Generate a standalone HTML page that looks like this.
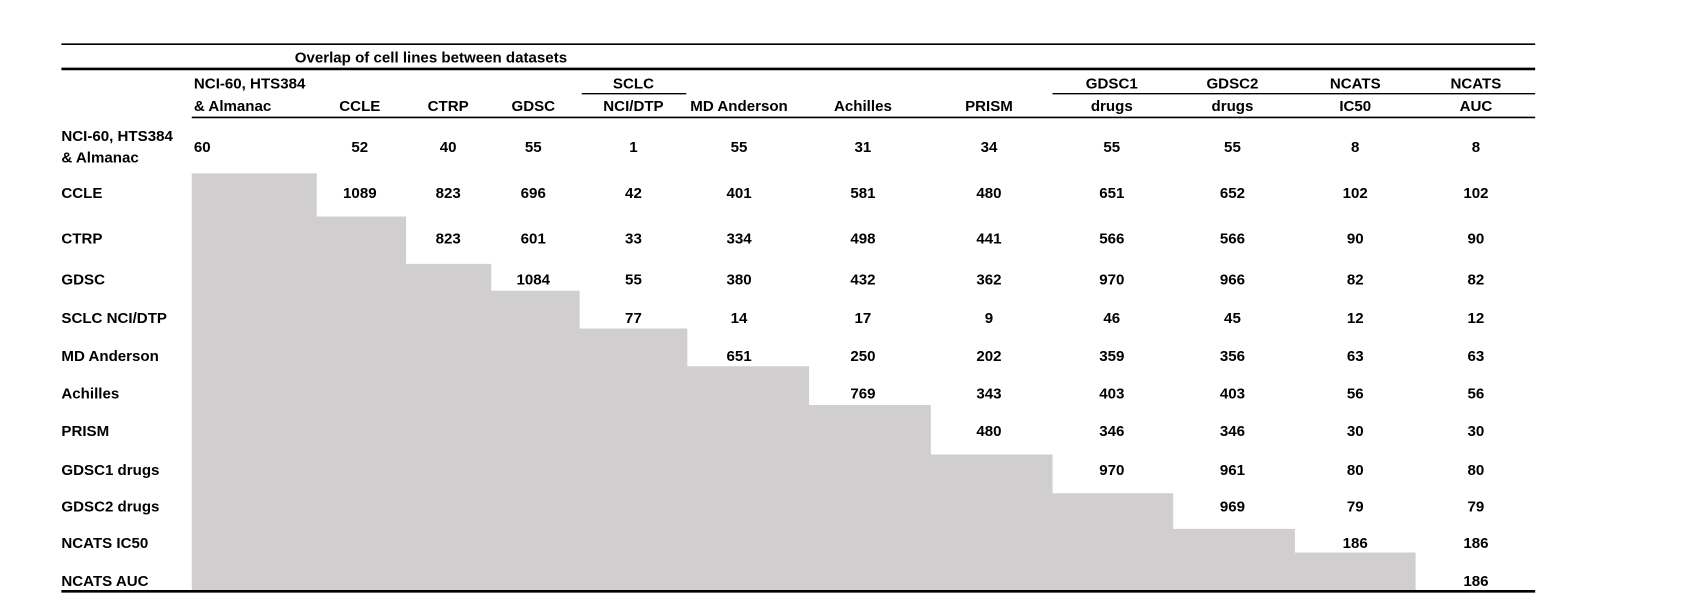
<!DOCTYPE html>
<html><head><meta charset="utf-8"><style>
html,body{margin:0;padding:0;background:#fff;}
svg{display:block;}
text{font-family:"Liberation Sans",Arial,sans-serif;font-weight:bold;font-size:14px;fill:#000;}
.c{text-anchor:middle;}
</style></head><body>
<svg width="1686" height="615" viewBox="0 0 1565 571" preserveAspectRatio="none" xmlns="http://www.w3.org/2000/svg">
<rect width="1565" height="571" fill="#fff"/>
<path fill="#d0cecf" d="M178,161 H294 V201 H377 V245 H456 V270 H538 V305 H638 V340 H751 V376 H864 V422 H977 V458 H1089 V491 H1202 V513 H1314 V549 H178 Z"/>
<line x1="57" y1="41" x2="1425" y2="41" stroke="#000" stroke-width="1.5"/>
<line x1="57" y1="64" x2="1425" y2="64" stroke="#000" stroke-width="2.5"/>
<line x1="540" y1="87" x2="637" y2="87" stroke="#000" stroke-width="1.2"/>
<line x1="977" y1="87" x2="1425" y2="87" stroke="#000" stroke-width="1.2"/>
<line x1="178" y1="109" x2="1425" y2="109" stroke="#000" stroke-width="1.5"/>
<line x1="57" y1="549" x2="1425" y2="549" stroke="#000" stroke-width="2.5"/>
<text x="400" y="58" class="c">Overlap of cell lines between datasets</text>
<text x="180" y="82">NCI-60, HTS384</text>
<text x="180" y="103">&amp; Almanac</text>
<text x="334" y="103" class="c">CCLE</text>
<text x="416" y="103" class="c">CTRP</text>
<text x="495" y="103" class="c">GDSC</text>
<text x="588" y="82" class="c">SCLC</text>
<text x="588" y="103" class="c">NCI/DTP</text>
<text x="686" y="103" class="c">MD Anderson</text>
<text x="801" y="103" class="c">Achilles</text>
<text x="918" y="103" class="c">PRISM</text>
<text x="1032" y="82" class="c">GDSC1</text>
<text x="1032" y="103" class="c">drugs</text>
<text x="1144" y="82" class="c">GDSC2</text>
<text x="1144" y="103" class="c">drugs</text>
<text x="1258" y="82" class="c">NCATS</text>
<text x="1258" y="103" class="c">IC50</text>
<text x="1370" y="82" class="c">NCATS</text>
<text x="1370" y="103" class="c">AUC</text>
<text x="57" y="131">NCI-60, HTS384</text>
<text x="57" y="151">&amp; Almanac</text>
<text x="180" y="141">60</text>
<g class="c">
<text x="334" y="141" class="c">52</text><text x="416" y="141" class="c">40</text><text x="495" y="141" class="c">55</text><text x="588" y="141" class="c">1</text><text x="686" y="141" class="c">55</text><text x="801" y="141" class="c">31</text><text x="918" y="141" class="c">34</text><text x="1032" y="141" class="c">55</text><text x="1144" y="141" class="c">55</text><text x="1258" y="141" class="c">8</text><text x="1370" y="141" class="c">8</text>
</g>
<text x="57" y="184">CCLE</text>
<text x="334" y="184" class="c">1089</text><text x="416" y="184" class="c">823</text><text x="495" y="184" class="c">696</text><text x="588" y="184" class="c">42</text><text x="686" y="184" class="c">401</text><text x="801" y="184" class="c">581</text><text x="918" y="184" class="c">480</text><text x="1032" y="184" class="c">651</text><text x="1144" y="184" class="c">652</text><text x="1258" y="184" class="c">102</text><text x="1370" y="184" class="c">102</text>
<text x="57" y="226">CTRP</text>
<text x="416" y="226" class="c">823</text><text x="495" y="226" class="c">601</text><text x="588" y="226" class="c">33</text><text x="686" y="226" class="c">334</text><text x="801" y="226" class="c">498</text><text x="918" y="226" class="c">441</text><text x="1032" y="226" class="c">566</text><text x="1144" y="226" class="c">566</text><text x="1258" y="226" class="c">90</text><text x="1370" y="226" class="c">90</text>
<text x="57" y="264">GDSC</text>
<text x="495" y="264" class="c">1084</text><text x="588" y="264" class="c">55</text><text x="686" y="264" class="c">380</text><text x="801" y="264" class="c">432</text><text x="918" y="264" class="c">362</text><text x="1032" y="264" class="c">970</text><text x="1144" y="264" class="c">966</text><text x="1258" y="264" class="c">82</text><text x="1370" y="264" class="c">82</text>
<text x="57" y="300">SCLC NCI/DTP</text>
<text x="588" y="300" class="c">77</text><text x="686" y="300" class="c">14</text><text x="801" y="300" class="c">17</text><text x="918" y="300" class="c">9</text><text x="1032" y="300" class="c">46</text><text x="1144" y="300" class="c">45</text><text x="1258" y="300" class="c">12</text><text x="1370" y="300" class="c">12</text>
<text x="57" y="335">MD Anderson</text>
<text x="686" y="335" class="c">651</text><text x="801" y="335" class="c">250</text><text x="918" y="335" class="c">202</text><text x="1032" y="335" class="c">359</text><text x="1144" y="335" class="c">356</text><text x="1258" y="335" class="c">63</text><text x="1370" y="335" class="c">63</text>
<text x="57" y="370">Achilles</text>
<text x="801" y="370" class="c">769</text><text x="918" y="370" class="c">343</text><text x="1032" y="370" class="c">403</text><text x="1144" y="370" class="c">403</text><text x="1258" y="370" class="c">56</text><text x="1370" y="370" class="c">56</text>
<text x="57" y="405">PRISM</text>
<text x="918" y="405" class="c">480</text><text x="1032" y="405" class="c">346</text><text x="1144" y="405" class="c">346</text><text x="1258" y="405" class="c">30</text><text x="1370" y="405" class="c">30</text>
<text x="57" y="441">GDSC1 drugs</text>
<text x="1032" y="441" class="c">970</text><text x="1144" y="441" class="c">961</text><text x="1258" y="441" class="c">80</text><text x="1370" y="441" class="c">80</text>
<text x="57" y="475">GDSC2 drugs</text>
<text x="1144" y="475" class="c">969</text><text x="1258" y="475" class="c">79</text><text x="1370" y="475" class="c">79</text>
<text x="57" y="509">NCATS IC50</text>
<text x="1258" y="509" class="c">186</text><text x="1370" y="509" class="c">186</text>
<text x="57" y="544">NCATS AUC</text>
<text x="1370" y="544" class="c">186</text>
</svg>
</body></html>
